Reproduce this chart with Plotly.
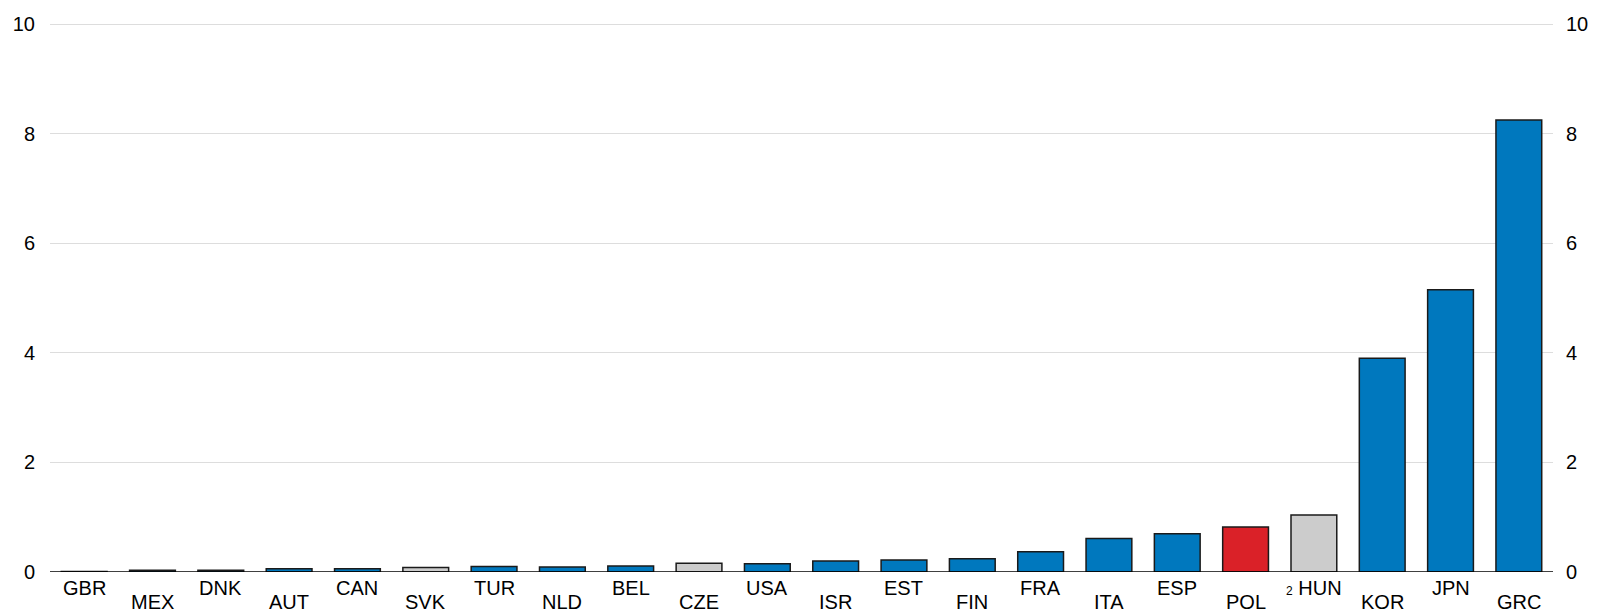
import plotly.graph_objects as go

countries = ["GBR", "MEX", "DNK", "AUT", "CAN", "SVK", "TUR", "NLD", "BEL", "CZE", "USA",
             "ISR", "EST", "FIN", "FRA", "ITA", "ESP", "POL", "HUN", "KOR", "JPN", "GRC"]
labels = ["GBR", "MEX", "DNK", "AUT", "CAN", "SVK", "TUR", "NLD", "BEL", "CZE", "USA",
          "ISR", "EST", "FIN", "FRA", "ITA", "ESP", "POL",
          "<span style=\"font-size:12px\">2</span> HUN", "KOR", "JPN", "GRC"]
values = [0.01, 0.03, 0.03, 0.06, 0.06, 0.08, 0.10, 0.09, 0.11, 0.16, 0.15,
          0.20, 0.22, 0.24, 0.37, 0.61, 0.70, 0.82, 1.04, 3.90, 5.15, 8.25]
groups = ["oecd"] * 22
for c in ["SVK", "CZE", "HUN"]:
    groups[countries.index(c)] = "cee"
groups[countries.index("POL")] = "pol"

color_map = {"oecd": "#0078BE", "cee": "#CCCCCC", "pol": "#DA2128"}
colors = [color_map[g] for g in groups]

yticks = [0, 2, 4, 6, 8, 10]

fig = go.Figure()
fig.add_trace(go.Bar(
    x=countries, y=values,
    marker=dict(color=colors, line=dict(color="#1a1a1a", width=1.5)),
    width=0.67,
    showlegend=False,
))
# invisible trace to anchor the right axis
fig.add_trace(go.Scatter(x=[countries[0]], y=[0], yaxis="y2", mode="markers",
                         marker=dict(opacity=0), showlegend=False, hoverinfo="skip"))

for i, (c, lab) in enumerate(zip(countries, labels)):
    fig.add_annotation(
        x=c, y=0, xref="x", yref="y", text=lab, showarrow=False,
        yanchor="middle", xanchor="center",
        yshift=-16 if i % 2 == 0 else -30,
        font=dict(family="Liberation Sans, Arial, sans-serif", size=20, color="black"),
    )

axis_font = dict(family="Liberation Sans, Arial, sans-serif", size=20, color="black")
fig.update_layout(
    width=1607, height=613,
    margin=dict(l=50, r=54, t=23, b=41),
    paper_bgcolor="white", plot_bgcolor="white",
    xaxis=dict(range=[-0.5, 21.5], showticklabels=False, showgrid=False,
               zeroline=False, showline=False, ticks=""),
    yaxis=dict(range=[0, 10.02], tickvals=yticks, showgrid=True, gridcolor="#DDDDDD",
               gridwidth=1, zeroline=False, showline=False, ticks="",
               tickfont=axis_font, ticklabelstandoff=14),
    yaxis2=dict(range=[0, 10.02], tickvals=yticks, overlaying="y", side="right",
                showgrid=False, zeroline=False, showline=False, ticks="",
                tickfont=axis_font, ticklabelstandoff=12),
    bargap=0.33,
)
fig.add_shape(type="line", xref="paper", yref="y", x0=0, x1=1, y0=0, y1=0,
              line=dict(color="black", width=1.5))

fig.write_html("out.html", config={"displayModeBar": False},
               post_script="document.body.style.margin='0px';")
